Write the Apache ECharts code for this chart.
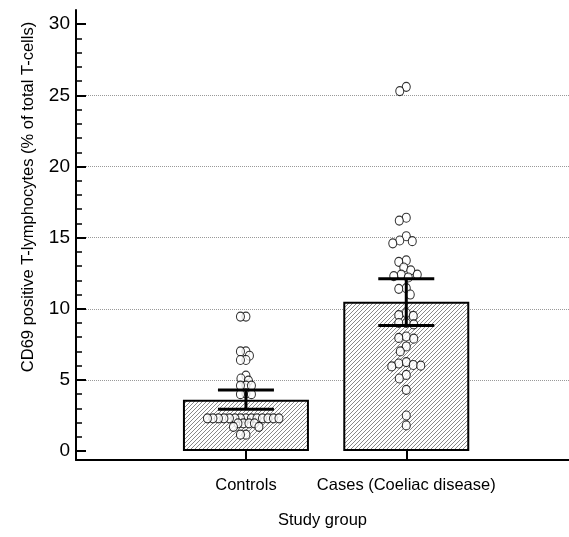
<!DOCTYPE html>
<html>
<head>
<meta charset="utf-8">
<script src="https://cdn.jsdelivr.net/npm/echarts@6/dist/echarts.min.js"></script>
<style>
  html, body { margin: 0; padding: 0; background: #fff; }
  #chart { width: 569px; height: 537px; }
</style>
</head>
<body>
<div id="chart"></div>
<script>
// ========== 数据 ==========
const groups = ["Controls", "Cases (Coeliac disease)"];
const groupPos = [1, 2];
const means = [3.6, 10.5];
const ciLow = [2.93, 8.83];
const ciHigh = [4.29, 12.11];

const controlsValues = [
  9.45, 9.45, 7.0, 7.0, 6.7, 6.4, 6.4, 5.3, 5.1, 4.95, 4.6, 4.6, 4.6, 4.05, 4.0, 4.0,
  2.3, 2.3, 2.3, 2.3, 2.3, 2.3, 2.3, 2.3, 2.3, 2.3, 2.3, 2.3, 2.3, 2.3,
  1.95, 1.95, 1.95, 1.95, 1.7, 1.7, 1.15, 1.15,
];
const casesValues = [
  25.3, 25.6, 16.2, 16.4, 15.1, 14.8, 14.75, 14.6, 13.4, 13.3, 12.9, 12.7, 12.4, 12.4,
  12.3, 12.2, 11.45, 11.4, 11.0, 9.7, 9.55, 9.5, 9.0, 9.0, 8.9, 8.05, 7.95, 7.9, 7.35,
  7.0, 6.25, 6.15, 6.05, 6.0, 5.95, 5.35, 5.1, 4.3, 2.5, 1.8,
];

const yMajor = [0, 5, 10, 15, 20, 25, 30];
const yMinor = [];
for (let v = 1; v < 30; v++) if (v % 5 !== 0) yMinor.push(v);

// ========== 斜线填充 ==========
function hatchPattern() {
  const c = document.createElement("canvas");
  c.width = 4;
  c.height = 4;
  const ctx = c.getContext("2d");
  ctx.fillStyle = "#fff";
  ctx.fillRect(0, 0, 4, 4);
  ctx.strokeStyle = "#888";
  ctx.lineWidth = 1;
  ctx.beginPath();
  ctx.moveTo(-1, 5); ctx.lineTo(5, -1);
  ctx.moveTo(-1, 1); ctx.lineTo(1, -1);
  ctx.moveTo(3, 5); ctx.lineTo(5, 3);
  ctx.stroke();
  return c;
}

const FONT = "'Liberation Sans', Arial, sans-serif";
const FS = 16.5;
const chart = echarts.init(document.getElementById("chart"));

chart.setOption({
  animation: false,
  grid: { left: 76, right: 0, top: 10, bottom: 77 },
  xAxis: {
    type: "value",
    min: -0.06,
    max: 3.015,
    name: "Study group",
    nameLocation: "middle",
    nameGap: 52,
    nameTextStyle: { fontFamily: FONT, fontSize: FS, color: "#000" },
    axisLine: { onZero: false, lineStyle: { color: "#000", width: 2 } },
    axisTick: { inside: true, length: 10, customValues: groupPos, lineStyle: { color: "#000", width: 2 } },
    axisLabel: {
      customValues: groupPos,
      margin: 17,
      fontFamily: FONT,
      fontSize: FS,
      color: "#000",
      formatter: (v) => groups[groupPos.indexOf(v)] || "",
    },
    splitLine: { show: false },
  },
  yAxis: [
    {
      type: "value",
      min: -0.63,
      max: 31,
      axisLine: { onZero: false, lineStyle: { color: "#000", width: 2 } },
      axisTick: { inside: true, length: 10, customValues: yMajor, lineStyle: { color: "#000", width: 2 } },
      axisLabel: { customValues: yMajor, margin: 6, fontFamily: FONT, fontSize: 19, color: "#000" },
      splitLine: {
        show: true,
        showMinLine: false,
        showMaxLine: false,
        customValues: yMajor,
        lineStyle: { color: "#999", type: "dotted", width: 1 },
      },
    },
    {
      type: "value",
      min: -0.63,
      max: 31,
      position: "left",
      axisLine: { show: false, onZero: false },
      axisTick: { show: true, inside: true, length: 6, customValues: yMinor, lineStyle: { color: "#000", width: 1.5 } },
      axisLabel: { show: false },
      splitLine: { show: false },
    },
  ],
  graphic: [
    {
      type: "text",
      x: 28,
      y: 197,
      rotation: Math.PI / 2,
      style: {
        text: "CD69 positive T-lymphocytes (% of total T-cells)",
        fontFamily: FONT,
        fontSize: FS,
        fill: "#000",
        align: "center",
        verticalAlign: "middle",
      },
    },
  ],
  series: [
    {
      type: "bar",
      barWidth: 126,
      data: groupPos.map((x, i) => [x, means[i]]),
      itemStyle: {
        color: { image: hatchPattern(), repeat: "repeat" },
        borderColor: "#000",
        borderWidth: 2,
      },
      z: 2,
    },
  ],
});

// ========== 蜂群点布局 ==========
function swarm(values, center, minDist) {
  const sorted = values.slice().sort((a, b) => b - a);
  const placed = [];
  const cx = chart.convertToPixel({ gridIndex: 0 }, [center, 0])[0];
  sorted.forEach((v) => {
    const py = chart.convertToPixel({ gridIndex: 0 }, [center, v])[1];
    let best = 0;
    for (let k = 0; k < 400; k++) {
      const off = (k % 2 === 0 ? 1 : -1) * Math.ceil(k / 2) * 0.5;
      const ok = placed.every((p) => Math.hypot(p[0] - (cx + off), p[1] - py) >= minDist);
      if (ok) { best = off; break; }
    }
    placed.push([cx + best, py]);
  });
  return placed.map((p, i) => [chart.convertFromPixel({ gridIndex: 0 }, p)[0], sorted[i]]);
}

const dots = swarm(controlsValues, groupPos[0], 5.5).concat(swarm(casesValues, groupPos[1], 7.5));

chart.setOption({
  series: [
    {},
    {
      type: "scatter",
      data: dots,
      symbol: "circle",
      symbolSize: [8, 9],
      itemStyle: { color: "#fff", borderColor: "#000", borderWidth: 1.1 },
      z: 3,
    },
    {
      type: "custom",
      data: groupPos.map((x, i) => [x, ciLow[i], ciHigh[i]]),
      z: 4,
      renderItem: (params, api) => {
        const lo = api.coord([api.value(0), api.value(1)]);
        const hi = api.coord([api.value(0), api.value(2)]);
        const half = 28;
        const st = { stroke: "#000", lineWidth: 3 };
        return {
          type: "group",
          children: [
            { type: "line", shape: { x1: lo[0], y1: lo[1], x2: hi[0], y2: hi[1] }, style: st },
            { type: "line", shape: { x1: lo[0] - half, y1: lo[1], x2: lo[0] + half, y2: lo[1] }, style: st },
            { type: "line", shape: { x1: hi[0] - half, y1: hi[1], x2: hi[0] + half, y2: hi[1] }, style: st },
          ],
        };
      },
    },
  ],
});
</script>
</body>
</html>
